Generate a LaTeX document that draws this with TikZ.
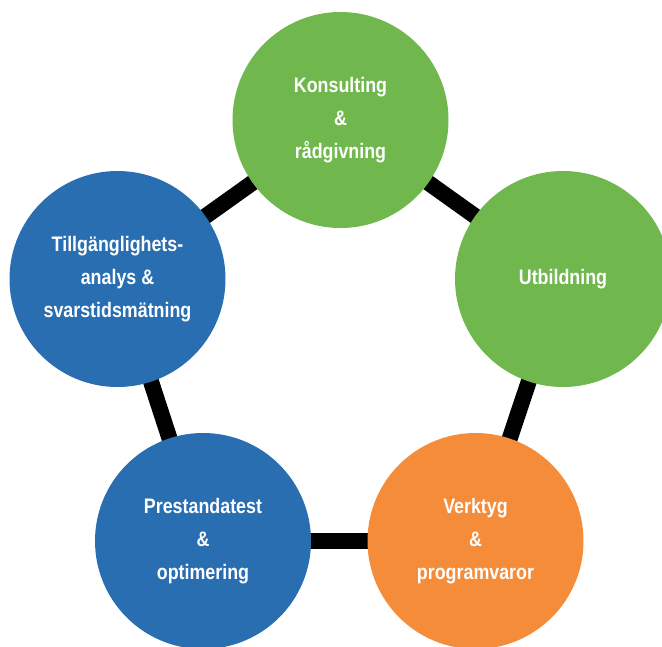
\documentclass[tikz,border=0pt]{standalone}
\usepackage{fontspec}
\setmainfont{Liberation Sans}
\newfontfamily\narrowfont[FakeStretch=0.85]{Liberation Sans}
\definecolor{cgreen}{HTML}{70B74E}
\definecolor{cblue}{HTML}{286EB1}
\definecolor{corange}{HTML}{F48C3A}
\begin{document}
\begin{tikzpicture}[x=1pt,y=-1pt,
  bubble/.style={circle,minimum size=216pt,inner sep=0pt,text=white,align=center,
    font=\narrowfont\bfseries\fontsize{21}{33}\selectfont},
  link/.style={line width=16pt,black}]
\clip (0,0) rectangle (662,646);
\useasboundingbox (0,0) rectangle (662,646);
\coordinate (ck) at (340.5,120);
\coordinate (cu) at (563,279);
\coordinate (cv) at (475.5,541);
\coordinate (cp) at (203,541);
\coordinate (ct) at (117.5,279);
\draw[link] (ck) -- (cu);
\draw[link] (cu) -- (cv);
\draw[link] (cv) -- (cp);
\draw[link] (cp) -- (ct);
\draw[link] (ct) -- (ck);
\node[bubble,fill=cgreen] (k) at (ck) {Konsulting\\\&\\rådgivning};
\node[bubble,fill=cgreen] (u) at (cu) {Utbildning};
\node[bubble,fill=corange] (v) at (cv) {Verktyg\\\&\\programvaror};
\node[bubble,fill=cblue] (p) at (cp) {Prestandatest\\\&\\optimering};
\node[bubble,fill=cblue] (t) at (ct) {Tillgänglighets-\\analys \&\\svarstidsmätning};
\end{tikzpicture}
\end{document}
